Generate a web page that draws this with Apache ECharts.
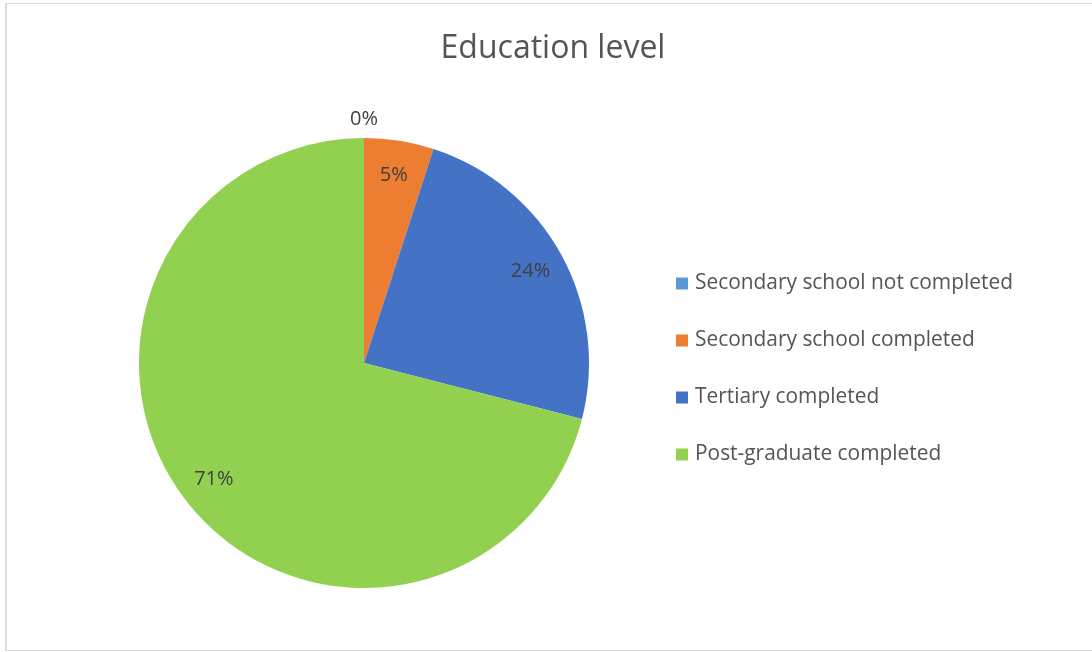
<!DOCTYPE html>
<html>
<head>
<meta charset="utf-8">
<title>Education level</title>
<script src="https://cdn.jsdelivr.net/npm/echarts@6/dist/echarts.min.js"></script>
<style>
  html, body { margin: 0; padding: 0; background: #ffffff; }
  #chart { position: absolute; left: 0; top: 0; width: 1092px; height: 652px; }
  #frame {
    position: absolute; left: 5px; top: 3px; width: 1095px; height: 646px;
    border: 1px solid #d9d9d9; border-left-width: 2px; pointer-events: none;
  }
</style>
</head>
<body>
<div id="chart"></div>
<div id="frame"></div>
<script>
// Share of respondents by highest education level (percent)
const categories = [
  'Secondary school not completed',
  'Secondary school completed',
  'Tertiary completed',
  'Post-graduate completed'
];
const shares = [0, 5, 24, 71];
const sliceColors = ['#5B9BD5', '#ED7D31', '#4472C4', '#92D050'];

const PIE_R = 225;         // outer radius of the pie
const LABEL_R = 190;       // radius where the in-slice labels sit
const EMPTY_LABEL_R = 244; // radius for labels of empty slices (outside the pie)

const chart = echarts.init(document.getElementById('chart'), null, { renderer: 'canvas' });

const pieData = categories.map((name, i) => {
  const item = { name: name, value: shares[i], itemStyle: { color: sliceColors[i] } };
  // empty slices put their label just outside the rim
  item.labelLine = {
    show: false,
    length: (shares[i] === 0 ? EMPTY_LABEL_R : LABEL_R) - PIE_R,
    length2: 0
  };
  return item;
});

chart.setOption({
  animation: false,
  backgroundColor: '#ffffff',
  title: {
    text: 'Education level',
    left: 548,
    top: 28,
    textAlign: 'center',
    textStyle: {
      fontFamily: 'Open Sans',
      fontSize: 32,
      fontWeight: 'normal',
      color: '#555555'
    }
  },
  legend: {
    orient: 'vertical',
    left: 671,
    top: 268,
    itemWidth: 12,
    itemHeight: 12,
    itemGap: 36,
    icon: 'rect',
    data: categories,
    textStyle: {
      fontFamily: 'Open Sans',
      fontSize: 20.9,
      color: '#555555',
      lineHeight: 20,
      padding: [0, 0, 0, 2]
    }
  },
  series: [{
    type: 'pie',
    center: [364, 363],
    radius: PIE_R,
    startAngle: 90,
    clockwise: true,
    avoidLabelOverlap: false,
    data: pieData,
    itemStyle: { borderWidth: 0 },
    label: {
      show: true,
      position: 'outside',
      distanceToLabelLine: 0,
      formatter: p => p.value + '%',
      fontFamily: 'Open Sans',
      fontSize: 20,
      color: '#404040'
    },
    labelLayout: () => ({ align: 'center', verticalAlign: 'middle' }),
    emphasis: { disabled: true }
  }]
});
</script>
</body>
</html>
